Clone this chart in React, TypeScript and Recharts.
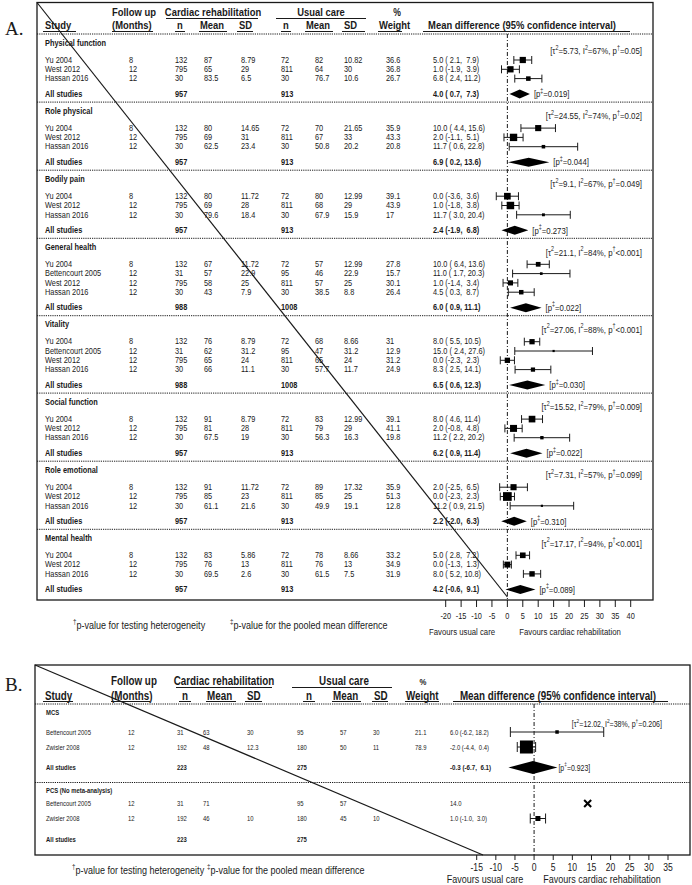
import React from "react";
import { ScatterChart, Scatter, XAxis, YAxis, ErrorBar, ReferenceLine } from "recharts";

const FONT = "'Liberation Sans',Arial,sans-serif";
const SX = 0.82; // horizontal condensing (Arial Narrow look)
const INK = "#1a1a1a";

// ---------------- Panel A data ----------------
const outcomesA = ["Physical function", "Role physical", "Bodily pain", "General health", "Vitality", "Social function", "Role emotional", "Mental health"];
const tau2A = ["5.73", "24.55", "9.1", "21.1", "27.06", "15.52", "7.31", "17.17"];
const i2A = ["67%", "74%", "67%", "84%", "88%", "79%", "57%", "94%"];
const pHetA = ["=0.05", "=0.02", "=0.049", "<0.001", "<0.001", "=0.009", "=0.099", "<0.001"];
const pPooledA = ["0.019", "0.044", "0.273", "0.022", "0.030", "0.022", "0.310", "0.089"];
const totalCrA = [957, 957, 957, 988, 988, 957, 957, 957];
const totalUcA = [913, 913, 913, 1008, 1008, 913, 913, 913];
const pooledMdA = [4.0, 6.9, 2.4, 6.0, 6.5, 6.2, 2.2, 4.2];
const pooledLoA = [0.7, 0.2, -1.9, 0.9, 0.6, 0.9, -2.0, -0.6];
const pooledHiA = [7.3, 13.6, 6.8, 11.1, 12.3, 11.4, 6.3, 9.1];

// outcome, study, follow-up, CR n, CR mean, CR SD, UC n, UC mean, UC SD, weight, MD, lower, upper
type Row = [number, string, number, number, number, number | null, number, number, number | null, number | null, number, number | null, number | null];
const studiesA: Row[] = [
  [0, "Yu 2004", 8, 132, 87, 8.79, 72, 82, 10.82, 36.6, 5.0, 2.1, 7.9],
  [0, "West 2012", 12, 795, 65, 29, 811, 64, 30, 36.8, 1.0, -1.9, 3.9],
  [0, "Hassan 2016", 12, 30, 83.5, 6.5, 30, 76.7, 10.6, 26.7, 6.8, 2.4, 11.2],
  [1, "Yu 2004", 8, 132, 80, 14.65, 72, 70, 21.65, 35.9, 10.0, 4.4, 15.6],
  [1, "West 2012", 12, 795, 69, 31, 811, 67, 33, 43.3, 2.0, -1.1, 5.1],
  [1, "Hassan 2016", 12, 30, 62.5, 23.4, 30, 50.8, 20.2, 20.8, 11.7, 0.6, 22.8],
  [2, "Yu 2004", 8, 132, 80, 11.72, 72, 80, 12.99, 39.1, 0.0, -3.6, 3.6],
  [2, "West 2012", 12, 795, 69, 28, 811, 68, 29, 43.9, 1.0, -1.8, 3.8],
  [2, "Hassan 2016", 12, 30, 79.6, 18.4, 30, 67.9, 15.9, 17, 11.7, 3.0, 20.4],
  [3, "Yu 2004", 8, 132, 67, 11.72, 72, 57, 12.99, 27.8, 10.0, 6.4, 13.6],
  [3, "Bettencourt 2005", 12, 31, 57, 22.9, 95, 46, 22.9, 15.7, 11.0, 1.7, 20.3],
  [3, "West 2012", 12, 795, 58, 25, 811, 57, 25, 30.1, 1.0, -1.4, 3.4],
  [3, "Hassan 2016", 12, 30, 43, 7.9, 30, 38.5, 8.8, 26.4, 4.5, 0.3, 8.7],
  [4, "Yu 2004", 8, 132, 76, 8.79, 72, 68, 8.66, 31, 8.0, 5.5, 10.5],
  [4, "Bettencourt 2005", 12, 31, 62, 31.2, 95, 47, 31.2, 12.9, 15.0, 2.4, 27.6],
  [4, "West 2012", 12, 795, 65, 24, 811, 65, 24, 31.2, 0.0, -2.3, 2.3],
  [4, "Hassan 2016", 12, 30, 66, 11.1, 30, 57.7, 11.7, 24.9, 8.3, 2.5, 14.1],
  [5, "Yu 2004", 8, 132, 91, 8.79, 72, 83, 12.99, 39.1, 8.0, 4.6, 11.4],
  [5, "West 2012", 12, 795, 81, 28, 811, 79, 29, 41.1, 2.0, -0.8, 4.8],
  [5, "Hassan 2016", 12, 30, 67.5, 19, 30, 56.3, 16.3, 19.8, 11.2, 2.2, 20.2],
  [6, "Yu 2004", 8, 132, 91, 11.72, 72, 89, 17.32, 35.9, 2.0, -2.5, 6.5],
  [6, "West 2012", 12, 795, 85, 23, 811, 85, 25, 51.3, 0.0, -2.3, 2.3],
  [6, "Hassan 2016", 12, 30, 61.1, 21.6, 30, 49.9, 19.1, 12.8, 11.2, 0.9, 21.5],
  [7, "Yu 2004", 8, 132, 83, 5.86, 72, 78, 8.66, 33.2, 5.0, 2.8, 7.2],
  [7, "West 2012", 12, 795, 76, 13, 811, 76, 13, 34.9, 0.0, -1.3, 1.3],
  [7, "Hassan 2016", 12, 30, 69.5, 2.6, 30, 61.5, 7.5, 31.9, 8.0, 5.2, 10.8],
];
const ticksA = [-20, -15, -10, -5, 0, 5, 10, 15, 20, 25, 30, 35, 40];

// ---------------- Panel B data ----------------
const outcomesB = ["MCS", "PCS (No meta-analysis)"];
const totalCrB = [223, 223];
const totalUcB = [275, 275];
const hetB = { tau2: "12.02", i2: "38%", p: "=0.206" };
const pooledB = { md: -0.3, lo: -6.7, hi: 6.1, p: "0.923" };
const studiesB: Row[] = [
  [0, "Bettencourt 2005", 12, 31, 63, 30, 95, 57, 30, 21.1, 6.0, -6.2, 18.2],
  [0, "Zwisler 2008", 12, 192, 48, 12.3, 180, 50, 11, 78.9, -2.0, -4.4, 0.4],
  [1, "Bettencourt 2005", 12, 31, 71, null, 95, 57, null, null, 14.0, null, null],
  [1, "Zwisler 2008", 12, 192, 46, 10, 180, 45, 10, null, 1.0, -1.0, 3.0],
];
const ticksB = [-15, -10, -5, 0, 5, 10, 15, 20, 25, 30, 35];

// ---------------- layout ----------------
const A_L = 445.7, A_R = 630.7, A_DOM: [number, number] = [-20, 40], A_BOTTOM = 600;
const B_L = 476.7, B_R = 668, B_DOM: [number, number] = [-15, 35], B_BOTTOM = 855;
const ppuA = (A_R - A_L) / (A_DOM[1] - A_DOM[0]);
const ppuB = (B_R - B_L) / (B_DOM[1] - B_DOM[0]);
const zeroA = A_L - A_DOM[0] * ppuA;

const colA = { study: 45, fu: 129, n1: 175, m1: 204, sd1: 241, n2: 281, m2: 315, sd2: 344, w: 386, md: 433 };
const colB = { study: 46, fu: 128, n1: 177, m1: 203, sd1: 247, n2: 297, m2: 340, sd2: 373, w: 415, md: 450 };

const secA = (() => {
  let d = 34;
  return outcomesA.map((_, i) => {
    const idx = studiesA.map((s, j) => (s[0] === i ? j : -1)).filter((j) => j >= 0);
    const header = d + 9, tau = d + (i === 0 ? 17 : 14), first = d + 26;
    const rows = idx.map((j, k) => ({ j, y: first + k * 9.3 }));
    const all = rows[rows.length - 1].y + 15.5;
    const s = { dot: d, header, tau, rows, all };
    d = all + 8;
    return s;
  });
})();

const secB = (() => {
  let d = 704;
  return outcomesB.map((_, i) => {
    const idx = studiesB.map((s, j) => (s[0] === i ? j : -1)).filter((j) => j >= 0);
    const header = d + 8, tau = d + 20, first = d + (i === 0 ? 28 : 21);
    const rows = idx.map((j, k) => ({ j, y: first + k * 15 }));
    const all = rows[rows.length - 1].y + 20.5;
    const s = { dot: d, header, tau, rows, all };
    d = all + 15;
    return s;
  });
})();

const fmt = (v: number | null) => (v === null ? "" : String(v));
const pad = (v: number) => v.toFixed(1).padStart(4, " ");
const mdText = (md: number, lo: number | null, hi: number | null) =>
  lo === null || hi === null ? md.toFixed(1) : `${md.toFixed(1)} (${pad(lo)}, ${pad(hi)})`;

// chart point sets
const studyPtsA = secA.flatMap((s) =>
  s.rows.map(({ j, y }) => {
    const r = studiesA[j];
    return { x: r[10], y, err: [r[10] - (r[11] as number), (r[12] as number) - r[10]], w: r[9] };
  })
);
const pooledPtsA = secA.map((s, i) => ({ x: pooledMdA[i], y: s.all, lo: pooledLoA[i], hi: pooledHiA[i], p: pPooledA[i] }));
const studyPtsB = secB.flatMap((s) =>
  s.rows
    .filter(({ j }) => studiesB[j][11] !== null)
    .map(({ j, y }) => {
      const r = studiesB[j];
      return { x: r[10], y, err: [r[10] - (r[11] as number), (r[12] as number) - r[10]], w: r[9] };
    })
);
const crossPtsB = secB.flatMap((s) =>
  s.rows.filter(({ j }) => studiesB[j][11] === null).map(({ j, y }) => ({ x: studiesB[j][10], y }))
);
const pooledPtsB = [{ x: pooledB.md, y: secB[0].all, lo: pooledB.lo, hi: pooledB.hi, p: pooledB.p }];

// ---------------- text helpers ----------------
type Seg = [string, number];
function Rich({ x, y, segs, size, anchor = "start", bold = false }: { x: number; y: number; segs: Seg[]; size: number; anchor?: string; bold?: boolean }) {
  const sh = size * 0.38;
  let prevSup = false;
  return (
    <g transform={`translate(${x},${y}) scale(${SX},1)`}>
      <text x={0} y={0} fontSize={size} fontFamily={FONT} fill={INK} textAnchor={anchor as any} dominantBaseline="central" fontWeight={bold ? "bold" : "normal"} style={{ whiteSpace: "pre" }}>
        {segs.map(([t, sup], k) => {
          let dy = 0;
          if (sup && !prevSup) dy = -sh;
          if (!sup && prevSup) dy = sh;
          prevSup = !!sup;
          return (
            <tspan key={k} dy={dy} fontSize={sup ? size * 0.68 : size}>
              {t}
            </tspan>
          );
        })}
      </text>
    </g>
  );
}
function T({ x, y, size, bold = false, anchor = "start", children }: { x: number; y: number; size: number; bold?: boolean; anchor?: string; children: any }) {
  return (
    <g transform={`translate(${x},${y}) scale(${SX},1)`}>
      <text x={0} y={0} fontSize={size} fontFamily={FONT} fill={INK} textAnchor={anchor as any} dominantBaseline="central" fontWeight={bold ? "bold" : "normal"} style={{ whiteSpace: "pre" }}>
        {children}
      </text>
    </g>
  );
}
const hetSegs = (t: string, i: string, p: string): Seg[] => [["[τ", 0], ["2", 1], ["=" + t + ", I", 0], ["2", 1], ["=" + i + ", p", 0], ["†", 1], [p + "]", 0]];

const tickRenderer = (fs: number) => (p: any) => (
  <g transform={`translate(${p.x},${p.y}) scale(${SX},1)`}>
    <text x={0} y={0} dy="0.71em" textAnchor="middle" fontSize={fs} fontFamily={FONT} fill={INK}>
      {p.payload.value}
    </text>
  </g>
);

// ---------------- shapes ----------------
const squareShape = (k: number, def: number) => (props: any) => {
  const { cx, cy, payload } = props;
  const side = payload.w == null ? def : Math.max(2.2, payload.w * k);
  return <rect x={cx - side / 2} y={cy - side / 2} width={side} height={side} fill="#000" />;
};
const diamondShape = (ppu: number, half: number, fs: number, gap: number) => (props: any) => {
  const { cx, cy, payload } = props;
  const l = cx - (payload.x - payload.lo) * ppu;
  const r = cx + (payload.hi - payload.x) * ppu;
  return (
    <g>
      <path d={`M${l},${cy}L${cx},${cy - half}L${r},${cy}L${cx},${cy + half}Z`} fill="#000" />
      <Rich x={r + gap} y={cy} size={fs} segs={[["[p", 0], ["‡", 1], ["=" + payload.p + "]", 0]]} />
    </g>
  );
};
const crossShape = (props: any) => {
  const { cx, cy } = props;
  const s = 3.5;
  return (
    <g stroke="#000" strokeWidth={2}>
      <line x1={cx - s} y1={cy - s} x2={cx + s} y2={cy + s} />
      <line x1={cx - s} y1={cy + s} x2={cx + s} y2={cy - s} />
    </g>
  );
};

// ---------------- overlay (tables) ----------------
function TableA() {
  const hs = 11.5, ds = 9;
  const under1: [number, number][] = [[166, 258], [276, 366]];
  const under2: [number, number][] = [[43, 76], [112, 153], [175, 185], [199, 227], [237, 253], [281, 291], [305, 333], [342, 365], [378, 402], [423, 630]];
  return (
    <g>
      <text x={5} y={35} fontSize={19} fontFamily="'Liberation Serif','DejaVu Serif',serif" fill={INK}>A.</text>
      <rect x={37} y={2.5} width={616} height={A_BOTTOM - 2.5} fill="none" stroke={INK} strokeWidth={1.3} />
      <T x={112} y={12} size={hs} bold>Follow up</T>
      <T x={213} y={12} size={hs} bold anchor="middle">Cardiac rehabilitation</T>
      <T x={321} y={12} size={hs} bold anchor="middle">Usual care</T>
      <T x={397} y={12} size={hs - 1} bold anchor="middle">%</T>
      <T x={45} y={25} size={hs} bold>Study</T>
      <T x={112} y={25} size={hs} bold>(Months)</T>
      <T x={177} y={25} size={hs} bold>n</T>
      <T x={200} y={25} size={hs} bold>Mean</T>
      <T x={239} y={25} size={hs} bold>SD</T>
      <T x={283} y={25} size={hs} bold>n</T>
      <T x={306} y={25} size={hs} bold>Mean</T>
      <T x={344} y={25} size={hs} bold>SD</T>
      <T x={379} y={25} size={hs} bold>Weight</T>
      <T x={522} y={25} size={hs} bold anchor="middle">Mean difference (95% confidence interval)</T>
      {under1.map(([a, b], k) => <line key={"u1" + k} x1={a} x2={b} y1={18.5} y2={18.5} stroke={INK} strokeWidth={1} />)}
      {under2.map(([a, b], k) => <line key={"u2" + k} x1={a} x2={b} y1={31.5} y2={31.5} stroke={INK} strokeWidth={1} />)}
      {secA.map((s, i) => (
        <g key={i}>
          <line x1={37} x2={653} y1={s.dot} y2={s.dot} stroke={INK} strokeWidth={1} strokeDasharray="1.2 1" />
          <T x={colA.study} y={s.header} size={ds} bold>{outcomesA[i]}</T>
          <Rich x={642} y={s.tau} size={9.6} anchor="end" segs={hetSegs(tau2A[i], i2A[i], pHetA[i])} />
          {s.rows.map(({ j, y }) => {
            const r = studiesA[j];
            return (
              <g key={j}>
                <T x={colA.study} y={y} size={ds}>{r[1]}</T>
                <T x={colA.fu} y={y} size={ds}>{fmt(r[2])}</T>
                <T x={colA.n1} y={y} size={ds}>{fmt(r[3])}</T>
                <T x={colA.m1} y={y} size={ds}>{fmt(r[4])}</T>
                <T x={colA.sd1} y={y} size={ds}>{fmt(r[5])}</T>
                <T x={colA.n2} y={y} size={ds}>{fmt(r[6])}</T>
                <T x={colA.m2} y={y} size={ds}>{fmt(r[7])}</T>
                <T x={colA.sd2} y={y} size={ds}>{fmt(r[8])}</T>
                <T x={colA.w} y={y} size={ds}>{fmt(r[9])}</T>
                <T x={colA.md} y={y} size={ds}>{mdText(r[10], r[11], r[12])}</T>
              </g>
            );
          })}
          <T x={colA.study} y={s.all} size={ds} bold>All studies</T>
          <T x={colA.n1} y={s.all} size={ds} bold>{String(totalCrA[i])}</T>
          <T x={colA.n2} y={s.all} size={ds} bold>{String(totalUcA[i])}</T>
          <T x={colA.md} y={s.all} size={ds} bold>{mdText(pooledMdA[i], pooledLoA[i], pooledHiA[i])}</T>
        </g>
      ))}
      <line x1={37} y1={2.5} x2={zeroA} y2={A_BOTTOM - 3} stroke={INK} strokeWidth={1.2} />
      <Rich x={73} y={625} size={11} segs={[["†", 1], ["p-value for testing heterogeneity", 0]]} />
      <Rich x={230} y={625} size={11} segs={[["‡", 1], ["p-value for the pooled mean difference", 0]]} />
      <T x={462} y={632} size={9.5} anchor="middle">Favours usual care</T>
      <T x={570} y={632} size={9.5} anchor="middle">Favours cardiac rehabilitation</T>
    </g>
  );
}

function TableB() {
  const hs = 12, ds = 7.2;
  const under1: [number, number][] = [[176, 272], [292, 392]];
  const under2: [number, number][] = [[43, 73], [111, 150], [179, 191], [206, 236], [245, 262], [303, 315], [332, 361], [372, 388], [405, 439], [453, 668]];
  return (
    <g>
      <text x={5} y={691} fontSize={19} fontFamily="'Liberation Serif','DejaVu Serif',serif" fill={INK}>B.</text>
      <rect x={35} y={665} width={655} height={B_BOTTOM - 665} fill="none" stroke={INK} strokeWidth={1.3} />
      <T x={111} y={681} size={hs} bold>Follow up</T>
      <T x={224} y={681} size={hs} bold anchor="middle">Cardiac rehabilitation</T>
      <T x={344} y={681} size={hs} bold anchor="middle">Usual care</T>
      <T x={423} y={682} size={9.5} bold anchor="middle">%</T>
      <T x={45} y={695.5} size={hs} bold>Study</T>
      <T x={111} y={695.5} size={hs} bold>(Months)</T>
      <T x={182} y={695.5} size={hs} bold>n</T>
      <T x={207} y={695.5} size={hs} bold>Mean</T>
      <T x={247} y={695.5} size={hs} bold>SD</T>
      <T x={306} y={695.5} size={hs} bold>n</T>
      <T x={333} y={695.5} size={hs} bold>Mean</T>
      <T x={374} y={695.5} size={hs} bold>SD</T>
      <T x={406} y={695.5} size={hs} bold>Weight</T>
      <T x={558} y={695.5} size={hs} bold anchor="middle">Mean difference (95% confidence interval)</T>
      {under1.map(([a, b], k) => <line key={"u1" + k} x1={a} x2={b} y1={687.5} y2={687.5} stroke={INK} strokeWidth={1} />)}
      {under2.map(([a, b], k) => <line key={"u2" + k} x1={a} x2={b} y1={701.5} y2={701.5} stroke={INK} strokeWidth={1} />)}
      {secB.map((s, i) => (
        <g key={i}>
          <line x1={35} x2={690} y1={s.dot} y2={s.dot} stroke={INK} strokeWidth={1} strokeDasharray="1.2 1" />
          <T x={colB.study} y={s.header} size={ds} bold>{outcomesB[i]}</T>
          {s.rows.map(({ j, y }) => {
            const r = studiesB[j];
            return (
              <g key={j}>
                <T x={colB.study} y={y} size={ds}>{r[1]}</T>
                <T x={colB.fu} y={y} size={ds}>{fmt(r[2])}</T>
                <T x={colB.n1} y={y} size={ds}>{fmt(r[3])}</T>
                <T x={colB.m1} y={y} size={ds}>{fmt(r[4])}</T>
                <T x={colB.sd1} y={y} size={ds}>{fmt(r[5])}</T>
                <T x={colB.n2} y={y} size={ds}>{fmt(r[6])}</T>
                <T x={colB.m2} y={y} size={ds}>{fmt(r[7])}</T>
                <T x={colB.sd2} y={y} size={ds}>{fmt(r[8])}</T>
                <T x={colB.w} y={y} size={ds}>{fmt(r[9])}</T>
                <T x={colB.md} y={y} size={ds}>{mdText(r[10], r[11], r[12])}</T>
              </g>
            );
          })}
          <T x={colB.study} y={s.all} size={ds} bold>All studies</T>
          <T x={colB.n1} y={s.all} size={ds} bold>{String(totalCrB[i])}</T>
          <T x={colB.n2} y={s.all} size={ds} bold>{String(totalUcB[i])}</T>
        </g>
      ))}
      <Rich x={662} y={secB[0].tau} size={8.6} anchor="end" segs={hetSegs(hetB.tau2, hetB.i2, hetB.p)} />
      <T x={colB.md} y={secB[0].all} size={ds + 0.4} bold>{mdText(pooledB.md, pooledB.lo, pooledB.hi)}</T>
      <line x1={35} y1={665} x2={483} y2={B_BOTTOM} stroke={INK} strokeWidth={1.2} />
      <Rich x={72} y={870} size={11} segs={[["†", 1], ["p-value for testing heterogeneity", 0]]} />
      <Rich x={207} y={870} size={11} segs={[["‡", 1], ["p-value for the pooled mean difference", 0]]} />
      <T x={485} y={879} size={11} anchor="middle">Favours usual care</T>
      <T x={602} y={879} size={11} anchor="middle">Favours cardiac rehabilitation</T>
    </g>
  );
}

export default function App() {
  const abs: React.CSSProperties = { position: "absolute", left: 0, top: 0 };
  return (
    <div style={{ position: "absolute", left: 0, top: 0, width: 692, height: 885, background: "#fff", overflow: "hidden" }}>
      <svg width={692} height={885} style={abs}>
        <TableA />
        <TableB />
      </svg>
      <div style={abs}>
        <ScatterChart width={692} height={A_BOTTOM + 30} margin={{ top: 0, right: 692 - A_R, bottom: 0, left: A_L }}>
          <XAxis type="number" dataKey="x" domain={A_DOM} ticks={ticksA} interval={0} allowDataOverflow axisLine={false} tickLine={{ stroke: INK }} tickSize={7} tickMargin={6} height={30} tick={tickRenderer(9)} />
          <YAxis type="number" dataKey="y" domain={[0, A_BOTTOM]} reversed hide allowDataOverflow />
          <ReferenceLine segment={[{ x: 0, y: 34 }, { x: 0, y: A_BOTTOM }]} stroke={INK} strokeWidth={1} strokeDasharray="4 2 1 2" />
          <Scatter data={studyPtsA} shape={squareShape(0.17, 4)} isAnimationActive={false}>
            <ErrorBar dataKey="err" direction="x" width={4} stroke={INK} strokeWidth={1} isAnimationActive={false} />
          </Scatter>
          <Scatter data={pooledPtsA} shape={diamondShape(ppuA, 4.5, 9.5, 4)} isAnimationActive={false} />
        </ScatterChart>
      </div>
      <div style={abs}>
        <ScatterChart width={692} height={B_BOTTOM + 30} margin={{ top: 0, right: 692 - B_R, bottom: 0, left: B_L }}>
          <XAxis type="number" dataKey="x" domain={B_DOM} ticks={ticksB} interval={0} allowDataOverflow axisLine={false} tickLine={{ stroke: INK }} tickSize={5} tickMargin={4} height={30} tick={tickRenderer(10.5)} />
          <YAxis type="number" dataKey="y" domain={[0, B_BOTTOM]} reversed hide allowDataOverflow />
          <ReferenceLine segment={[{ x: 0, y: 704 }, { x: 0, y: B_BOTTOM }]} stroke={INK} strokeWidth={1} strokeDasharray="4 2 1 2" />
          <Scatter data={studyPtsB} shape={squareShape(0.165, 5)} isAnimationActive={false}>
            <ErrorBar dataKey="err" direction="x" width={5} stroke={INK} strokeWidth={1} isAnimationActive={false} />
          </Scatter>
          <Scatter data={crossPtsB} shape={crossShape} isAnimationActive={false} />
          <Scatter data={pooledPtsB} shape={diamondShape(ppuB, 6.5, 8.5, 1)} isAnimationActive={false} />
        </ScatterChart>
      </div>
    </div>
  );
}
